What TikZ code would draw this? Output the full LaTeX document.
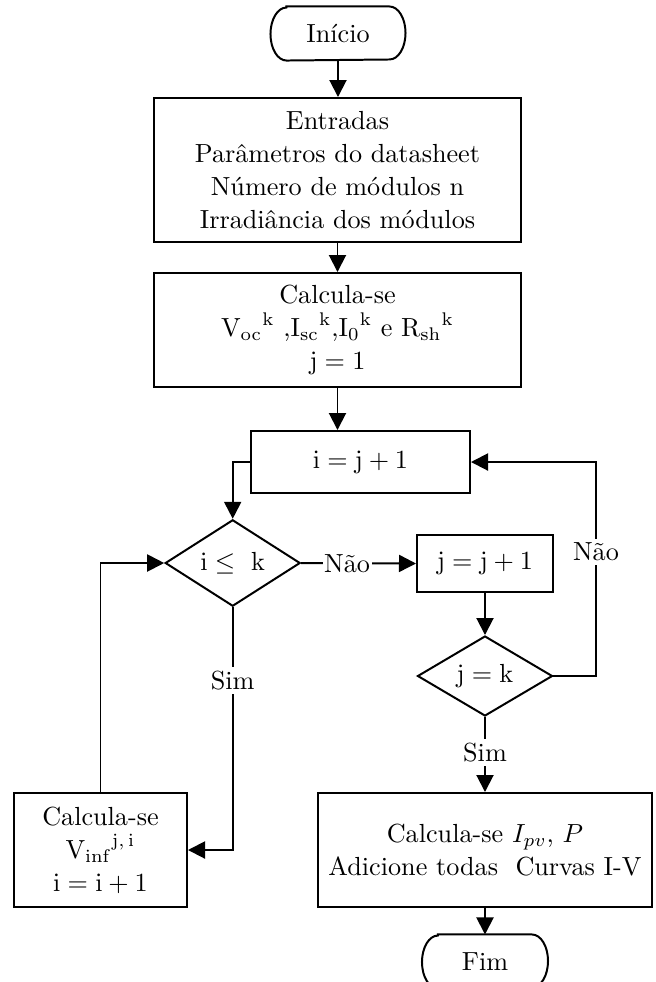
\documentclass[tikz,border=0pt]{standalone}
\usetikzlibrary{shapes.geometric,arrows.meta}
\begin{document}
\def\u{0.382pt}
\newcommand\termpath[1]{\draw[line width=0.76pt] ([xshift=16*\u]#1.north west) -- ([xshift=-16*\u]#1.north east) arc[start angle=90,end angle=-90,x radius=16*\u,y radius=26.5*\u] -- ([xshift=16*\u]#1.south west) arc[start angle=270,end angle=90,x radius=16*\u,y radius=26.5*\u] -- cycle;}
\begin{tikzpicture}[x=0.382pt,y=-0.382pt,
  every node/.style={font=\fontsize{10}{12.6}\selectfont},
  box/.style={draw,line width=0.76pt,rectangle,inner sep=0pt,align=center},
  term/.style={rectangle,inner sep=0pt,minimum height=53*\u},
  dec/.style={draw,line width=0.76pt,diamond,inner sep=0pt},
  arr/.style={line width=0.76pt,-{Triangle[length=6.5pt,width=6.5pt]}},
  lbl/.style={fill=white,inner sep=0.6pt}]
\useasboundingbox (0,0) rectangle (656,982);
\node[term,minimum width=134*\u] (inicio) at (338,33.5) {Início};
\termpath{inicio}
\node[box,minimum width=367*\u,minimum height=144*\u] (entradas) at (337.5,170) {Entradas\\Parâmetros do datasheet\\Número de módulos n\\Irradiância dos módulos};
\node[box,minimum width=367*\u,minimum height=114*\u] (calc1) at (337.5,330) {Calcula-se\\$\mathrm{V_{oc}}^{\mathrm{k}}$ ,$\mathrm{I_{sc}}^{\mathrm{k}}$,$\mathrm{I_0}^{\mathrm{k}}$ e $\mathrm{R_{sh}}^{\mathrm{k}}$\\$\mathrm{j = 1}$};
\node[box,minimum width=219*\u,minimum height=62*\u] (ij) at (360.5,462) {$\mathrm{i = j + 1}$};
\node[dec,minimum width=135*\u,minimum height=80*\u] (d1) at (232.7,563) {$\mathrm{i \leq\ k}$};
\node[box,minimum width=136*\u,minimum height=57*\u] (jj) at (485,563.5) {$\mathrm{j = j + 1}$};
\node[dec,minimum width=135*\u,minimum height=80*\u] (d2) at (485,676) {$\mathrm{j = k}$};
\node[box,minimum width=173*\u,minimum height=114*\u] (calcV) at (100.5,850) {Calcula-se\\$\mathrm{V_{inf}}^{\mathrm{j,\,i}}$\\$\mathrm{i = i + 1}$};
\node[box,minimum width=334*\u,minimum height=114*\u] (calcI) at (485,850) {Calcula-se $I_{pv}$, $P$\\Adicione todas\ \ Curvas I-V};
\node[term,minimum width=125*\u] (fim) at (485,961.5) {Fim};
\termpath{fim}
\coordinate (r) at (596,676);
\draw[arr] (inicio.south) -- (inicio.south |- entradas.north);
\draw[arr] (entradas.south) -- (calc1.north);
\draw[arr] (calc1.south) -- (calc1.south |- ij.north);
\draw[arr] (ij.west) -| (d1.north);
\draw[arr] (d1.east) -- node[lbl,pos=0.4]{Não} (jj.west);
\draw[arr] (jj.south) -- (d2.north);
\draw[arr] (d2.east) -- (d2.east -| r) -- node[lbl,inner sep=1.5pt,pos=0.58]{Não} (ij.east -| r) -- (ij.east);
\draw[arr] (d2.south) -- node[lbl,inner sep=1.5pt,pos=0.47]{Sim} (calcI.north);
\draw[arr] (d1.south) -- node[lbl,inner sep=1.5pt,pos=0.30]{Sim} (d1.south |- calcV.east) -- (calcV.east);
\draw[arr] (calcV.north) -- (calcV.north |- d1.west) -- (d1.west);
\draw[arr] (calcI.south) -- (fim.north);
\end{tikzpicture}
\end{document}
